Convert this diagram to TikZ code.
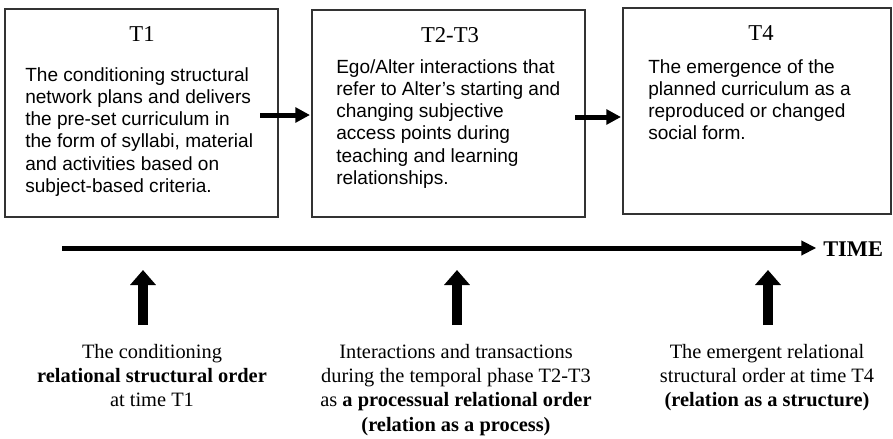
\documentclass[tikz,border=0pt]{standalone}
\usepackage{fontspec}
\setmainfont{Liberation Serif}
\newfontfamily\bodysans{Liberation Sans}
\usetikzlibrary{arrows.meta,fit}
\begin{document}
\begin{tikzpicture}[x=0.75pt,y=-0.75pt,
  boxframe/.style={draw=black!80, line width=0.9pt, inner sep=0pt, fit=#1},
  ttl/.style={font=\fontsize{17}{20}\selectfont, inner sep=0pt},
  bodytxt/.style={font=\bodysans\fontsize{14.3}{16.7}\selectfont, align=left, anchor=north west, inner sep=0pt},
  flow/.style={line width=3.75pt, -{Triangle[length=11pt,width=11pt]}},
  uparr/.style={line width=7.5pt, -{Triangle[length=11.25pt,width=18.75pt]}},
  lowtxt/.style={font=\fontsize{15.3}{18.2}\selectfont, align=center, anchor=north, inner sep=0pt}]
\useasboundingbox (0,0) rectangle (893,439);
% boxes
\coordinate (b1a) at (5,9);   \coordinate (b1b) at (278,217);
\coordinate (b2a) at (312,10); \coordinate (b2b) at (585,217);
\coordinate (b3a) at (623,8);  \coordinate (b3b) at (891,214);
\node[boxframe={(b1a)(b1b)}] (b1) {};
\node[boxframe={(b2a)(b2b)}] (b2) {};
\node[boxframe={(b3a)(b3b)}] (b3) {};
% titles
\node[ttl] (h1) at (142,34) {T1};
\node[ttl] (h2) at (450,35) {T2-T3};
\node[ttl] (h3) at (761,33) {T4};
% body texts
\node[bodytxt] (t1) at (25,67) {The conditioning structural\\network plans and delivers\\the pre-set curriculum in\\the form of syllabi, material\\and activities based on\\subject-based criteria.};
\node[bodytxt] (t2) at (336,59) {Ego/Alter interactions that\\refer to Alter’s starting and\\changing subjective\\access points during\\teaching and learning\\relationships.};
\node[bodytxt] (t3) at (648,59) {The emergence of the\\planned curriculum as a\\reproduced or changed\\social form.};
% arrows between boxes
\coordinate (a1s) at (260,115); \coordinate (a1e) at (310,115);
\coordinate (a2s) at (575,117); \coordinate (a2e) at (621,117);
\draw[flow] (a1s) -- (a1e);
\draw[flow] (a2s) -- (a2e);
% time axis
\coordinate (ts) at (62,248);
\node[font=\bfseries\fontsize{16.8}{18}\selectfont, anchor=west, inner sep=0pt] (time) at (823,249) {TIME};
\draw[line width=3.75pt, -{Triangle[length=11.25pt,width=10.5pt]}] (ts) -- ([xshift=-5pt]time.west |- ts);
% lower texts
\node[lowtxt] (l1) at (152,344) {The conditioning\\\textbf{relational structural order}\\at time T1};
\node[lowtxt] (l2) at (456,344) {Interactions and transactions\\during the temporal phase T2-T3\\as \textbf{a processual relational order}\\\textbf{(relation as a process)}};
\node[lowtxt] (l3) at (767,344) {The emergent relational\\structural order at time T4\\\textbf{(relation as a structure)}};
% up arrows
\coordinate (u1b) at (143,325); \coordinate (u1t) at (143,270);
\coordinate (u2b) at (457,325); \coordinate (u2t) at (457,270);
\coordinate (u3b) at (768,325); \coordinate (u3t) at (768,270);
\draw[uparr] (u1b) -- (u1t);
\draw[uparr] (u2b) -- (u2t);
\draw[uparr] (u3b) -- (u3t);
\end{tikzpicture}
\end{document}
